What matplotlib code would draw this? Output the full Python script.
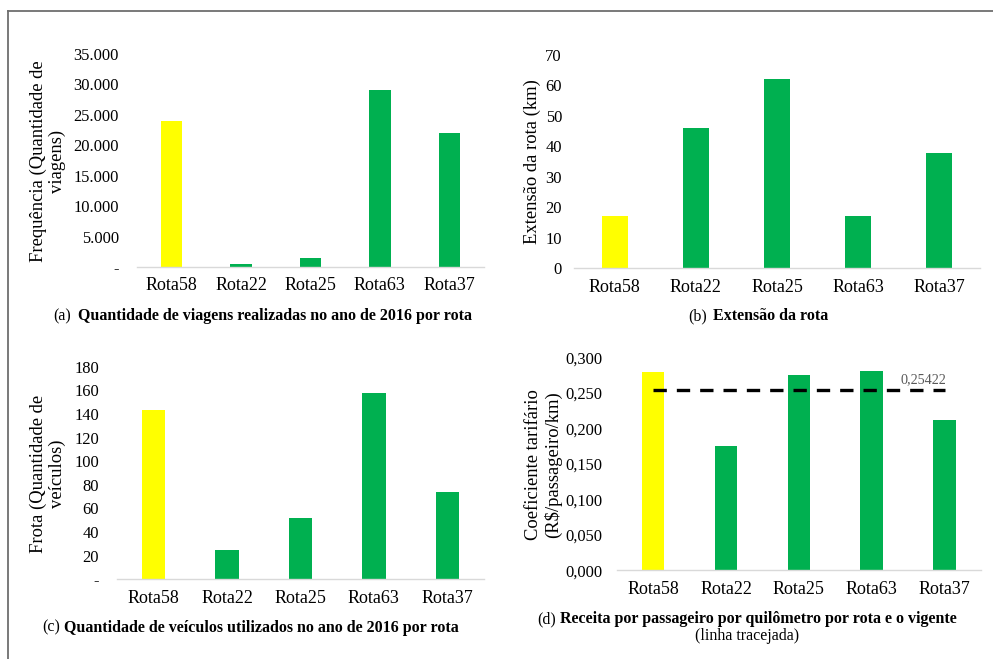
import matplotlib
matplotlib.use("Agg")
import matplotlib.pyplot as plt
from matplotlib.lines import Line2D
from matplotlib.ticker import FixedLocator, FuncFormatter

plt.rcParams['font.family'] = ['Liberation Serif', 'DejaVu Serif']

W, H = 993, 659
DPI = 100

routes = ["Rota58", "Rota22", "Rota25", "Rota63", "Rota37"]
bar_colors = ["#FFFF00", "#00B050", "#00B050", "#00B050", "#00B050"]

trips_2016 = [24000, 450, 1400, 29100, 22100]
route_length_km = [17, 46, 62, 17, 38]
fleet_2016 = [143, 25, 52, 158, 74]
fare_coef = [0.280, 0.175, 0.275, 0.281, 0.211]
current_fare = 0.25422

trips_ticks = [0, 5000, 10000, 15000, 20000, 25000, 30000, 35000]
length_ticks = [0, 10, 20, 30, 40, 50, 60, 70]
fleet_ticks = [0, 20, 40, 60, 80, 100, 120, 140, 160, 180]
fare_ticks = [0.0, 0.05, 0.10, 0.15, 0.20, 0.25, 0.30]

fig = plt.figure(figsize=(W / DPI, H / DPI), dpi=DPI)


def px_axes(left, right, bottom, top):
    return fig.add_axes([left / W, 1 - bottom / H, (right - left) / W, (bottom - top) / H])


def bar_panel(ax, values, ticks, fmt, ypad_px, bar_w):
    x = range(len(routes))
    ax.bar(x, values, width=bar_w, color=bar_colors, zorder=2)
    ax.set_xlim(-0.5, len(routes) - 0.5)
    ax.set_ylim(ticks[0], ticks[-1])
    ax.yaxis.set_major_locator(FixedLocator(ticks))
    ax.yaxis.set_major_formatter(FuncFormatter(fmt))
    ax.set_xticks(list(x))
    ax.set_xticklabels(routes)
    for s in ["top", "right", "left"]:
        ax.spines[s].set_visible(False)
    ax.spines["bottom"].set_color("#D9D9D9")
    ax.spines["bottom"].set_linewidth(1.0)
    ax.tick_params(axis="both", length=0, colors="#000000")
    ax.tick_params(axis="y", pad=ypad_px * 0.72, labelsize=11.9)
    ax.tick_params(axis="x", pad=7.5, labelsize=13)
    ax.set_facecolor("none")


def thousands(v, _):
    if v == 0:
        return "-"
    return f"{int(v):,}".replace(",", ".")


def plain(v, _):
    if v == 0:
        return "-"
    return f"{int(v)}"


def integer(v, _):
    return f"{int(v)}"


def comma3(v, _):
    return f"{v:.3f}".replace(".", ",")


# (a) trips per route
ax_a = px_axes(137, 484, 267, 54)
bar_panel(ax_a, trips_2016, trips_ticks, thousands, 18, 0.31)

# (b) route length
ax_b = px_axes(574, 980, 268.3, 55)
bar_panel(ax_b, route_length_km, length_ticks, integer, 12, 0.32)

# (c) fleet per route
ax_c = px_axes(117, 484, 579.3, 366.7)
bar_panel(ax_c, fleet_2016, fleet_ticks, plain, 18, 0.32)

# (d) fare coefficient with current value as dashed line
ax_d = px_axes(616.7, 981, 570.3, 357.3)
bar_panel(ax_d, fare_coef, fare_ticks, comma3, 14, 0.31)
ax_d.plot([0, len(routes) - 1], [current_fare, current_fare], color="black",
          lw=2.4, linestyle=(0, (4.0, 3.0)), dash_capstyle="butt", zorder=3)
ax_d.annotate(f"{current_fare:.5f}".replace(".", ","),
              xy=(len(routes) - 1, current_fare), xytext=(1, 2.5),
              textcoords="offset points", ha="right", va="bottom",
              fontsize=10.2, color="#595959", zorder=4)


def ylabel(x, y, text):
    fig.text(x / W, 1 - y / H, text, rotation=90, ha="center", va="center",
             multialignment="center", fontsize=13.4, linespacing=1.15)


ylabel(48, 161, "Frequência (Quantidade de\nviagens)")
ylabel(532, 161.3, "Extensão da rota (km)")
ylabel(48, 474, "Frota (Quantidade de\nveículos)")
ylabel(544, 465, "Coeficiente tarifário\n(R$/passageiro/km)")


def caption(x_tag, x_bold, y, tag, bold):
    fig.text(x_tag / W, 1 - y / H, tag, ha="left", va="center", fontsize=11.5)
    fig.text(x_bold / W, 1 - y / H, bold, ha="left", va="center", fontsize=11.5,
             fontweight="bold")


caption(53, 78, 316, "(a)", "Quantidade de viagens realizadas no ano de 2016 por rota")
caption(688, 713, 316, "(b)", "Extensão da rota")
caption(42, 64, 627.7, "(c)", "Quantidade de veículos utilizados no ano de 2016 por rota")
caption(537, 560, 619, "(d)", "Receita por passageiro por quilômetro por rota e o vigente")
fig.text(747 / W, 1 - 636 / H, "(linha tracejada)", ha="center", va="center", fontsize=11.5)

# frame around the figure block
frame_kw = dict(color="#6E6E6E", lw=1.3, transform=fig.transFigure)
fig.add_artist(Line2D([8 / W, 8 / W], [0, 1 - 11 / H], **frame_kw))
fig.add_artist(Line2D([8 / W, 1], [1 - 11 / H, 1 - 11 / H], **frame_kw))

fig.savefig("out.png", dpi=DPI, facecolor="white")
